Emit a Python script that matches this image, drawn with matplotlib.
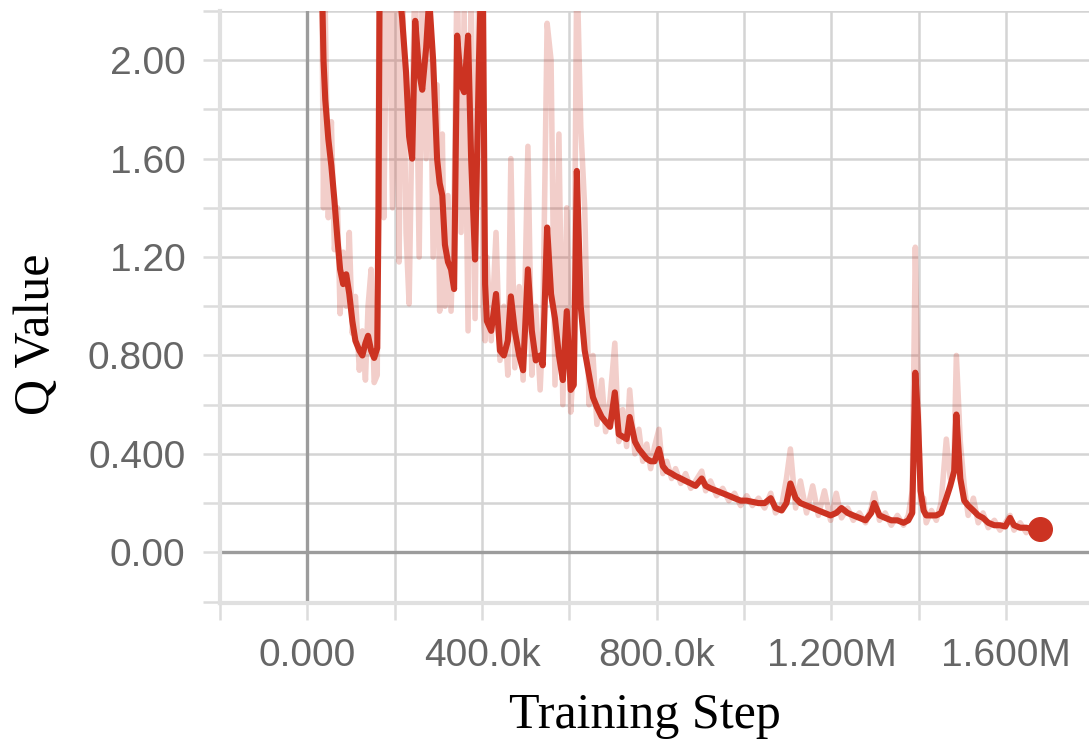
import matplotlib
matplotlib.use("Agg")
import matplotlib.pyplot as plt
import matplotlib.ticker as ticker

# training steps (thousands), smoothed and raw Q value
steps_k = [32, 37, 41, 48, 55, 62, 69, 75, 82, 89, 96, 103, 110, 119, 126, 133, 139, 146, 153, 160,
           163, 166, 175, 185, 195, 205, 210, 217, 226, 233, 240, 247, 256, 263, 272, 279, 288, 297, 303, 309,
           315, 322, 329, 336, 343, 352, 359, 368, 375, 384, 393, 398, 402, 407, 411, 421, 432, 441, 450, 459,
           466, 475, 485, 494, 505, 514, 523, 533, 539, 549, 558, 567, 576, 585, 594, 603, 610, 617, 626, 635,
           645, 654, 663, 674, 683, 693, 704, 713, 722, 731, 738, 750, 759, 768, 777, 786, 795, 805, 814, 823,
           834, 843, 855, 866, 878, 889, 903, 912, 923, 937, 951, 965, 978, 992, 1006, 1019, 1033, 1047, 1061, 1072,
           1086, 1097, 1106, 1118, 1129, 1143, 1157, 1170, 1184, 1198, 1211, 1223, 1237, 1250, 1264, 1278, 1291, 1298, 1310, 1323,
           1337, 1351, 1365, 1376, 1385, 1392, 1398, 1404, 1411, 1417, 1429, 1440, 1451, 1463, 1472, 1481, 1486, 1495, 1504, 1513,
           1525, 1536, 1547, 1559, 1573, 1586, 1598, 1609, 1618, 1632, 1646, 1659, 1673, 1678]

q_smoothed = [2.45, 2.00, 1.84, 1.68, 1.57, 1.43, 1.27, 1.15, 1.09, 1.13, 1.05, 0.94, 0.86, 0.82, 0.80, 0.85, 0.88, 0.82, 0.79, 0.83,
              1.40, 2.50, 2.60, 2.55, 2.50, 2.40, 2.30, 2.17, 1.95, 1.69, 1.60, 2.16, 1.95, 1.88, 2.05, 2.25, 2.00, 1.60, 1.50, 1.45,
              1.25, 1.18, 1.15, 1.07, 2.10, 1.90, 1.87, 2.10, 1.60, 1.19, 2.00, 2.35, 2.30, 1.09, 0.94, 0.90, 1.05, 0.82, 0.80, 0.86,
              1.04, 0.90, 0.80, 0.74, 1.15, 0.90, 0.78, 0.80, 0.76, 1.32, 1.05, 0.95, 0.80, 0.70, 0.98, 0.66, 0.68, 1.55, 1.00, 0.82,
              0.72, 0.63, 0.59, 0.55, 0.53, 0.51, 0.65, 0.48, 0.47, 0.46, 0.55, 0.45, 0.42, 0.40, 0.38, 0.37, 0.37, 0.42, 0.35, 0.33,
              0.32, 0.31, 0.30, 0.29, 0.28, 0.27, 0.30, 0.27, 0.26, 0.25, 0.24, 0.23, 0.22, 0.21, 0.21, 0.205, 0.20, 0.20, 0.22, 0.18,
              0.17, 0.20, 0.28, 0.22, 0.20, 0.19, 0.18, 0.17, 0.16, 0.15, 0.16, 0.18, 0.16, 0.15, 0.14, 0.13, 0.16, 0.20, 0.15, 0.14,
              0.13, 0.13, 0.12, 0.13, 0.16, 0.73, 0.55, 0.25, 0.17, 0.15, 0.15, 0.15, 0.16, 0.22, 0.27, 0.33, 0.56, 0.30, 0.21, 0.19,
              0.17, 0.15, 0.14, 0.12, 0.11, 0.11, 0.105, 0.14, 0.11, 0.10, 0.10, 0.095, 0.095, 0.095]

q_raw = [2.60, 1.40, 2.20, 1.36, 1.75, 1.23, 1.40, 0.97, 1.22, 1.00, 1.30, 0.89, 1.04, 0.74, 0.90, 0.70, 1.00, 1.15, 0.69, 0.72,
         1.90, 2.80, 1.36, 2.70, 1.40, 2.60, 1.18, 2.50, 1.30, 1.01, 1.80, 2.40, 1.20, 2.30, 1.60, 2.50, 1.20, 1.90, 0.98, 1.70,
         1.00, 1.45, 0.98, 1.40, 2.40, 1.30, 2.20, 0.90, 2.30, 0.95, 2.40, 2.60, 1.00, 0.86, 1.20, 0.86, 1.30, 0.78, 1.00, 0.72,
         1.60, 0.75, 1.08, 0.70, 1.65, 0.72, 1.00, 0.66, 0.90, 2.15, 2.00, 0.68, 1.70, 0.60, 1.40, 0.57, 0.80, 2.40, 1.73, 1.40,
         0.60, 0.80, 0.52, 0.70, 0.49, 0.62, 0.85, 0.45, 0.58, 0.43, 0.66, 0.40, 0.50, 0.37, 0.44, 0.34, 0.43, 0.50, 0.32, 0.37,
         0.30, 0.34, 0.28, 0.32, 0.26, 0.29, 0.33, 0.25, 0.29, 0.23, 0.26, 0.21, 0.24, 0.19, 0.23, 0.19, 0.22, 0.18, 0.24, 0.16,
         0.19, 0.30, 0.42, 0.18, 0.29, 0.16, 0.27, 0.15, 0.25, 0.13, 0.24, 0.14, 0.18, 0.13, 0.16, 0.12, 0.18, 0.24, 0.13, 0.16,
         0.11, 0.15, 0.11, 0.15, 0.25, 1.24, 0.66, 0.20, 0.22, 0.12, 0.17, 0.13, 0.20, 0.46, 0.30, 0.40, 0.80, 0.45, 0.27, 0.15,
         0.22, 0.12, 0.16, 0.10, 0.13, 0.09, 0.12, 0.15, 0.09, 0.12, 0.08, 0.11, 0.08, 0.095]

x_ticks = [0, 400000, 800000, 1200000, 1600000]
x_tick_labels = ["0.000", "400.0k", "800.0k", "1.200M", "1.600M"]
y_ticks = [0.0, 0.4, 0.8, 1.2, 1.6, 2.0]
y_tick_labels = ["0.00", "0.400", "0.800", "1.20", "1.60", "2.00"]

line_color = "#cc3322"
grid_color = "#d4d4d4"

steps = [k * 1000 for k in steps_k]

fig = plt.figure(figsize=(10.89, 7.40), dpi=100)
ax = fig.add_axes([220 / 1089, 1 - 603 / 740, 1 - 220 / 1089, 592 / 740])

ax.set_xlim(-200000, 1789700)
ax.set_ylim(-0.206, 2.2)

# grid on every 200k / 0.2, labels on every other line
ax.xaxis.set_major_locator(ticker.FixedLocator(x_ticks))
ax.xaxis.set_major_formatter(ticker.FixedFormatter(x_tick_labels))
ax.xaxis.set_minor_locator(ticker.MultipleLocator(200000))
ax.yaxis.set_major_locator(ticker.FixedLocator(y_ticks))
ax.yaxis.set_major_formatter(ticker.FixedFormatter(y_tick_labels))
ax.yaxis.set_minor_locator(ticker.MultipleLocator(0.2))

ax.grid(True, which="both", color=grid_color, linewidth=1.8)
ax.set_axisbelow(True)

for side in ["top", "right"]:
    ax.spines[side].set_visible(False)
for side in ["left", "bottom"]:
    ax.spines[side].set_color("#e0e0e0")
    ax.spines[side].set_linewidth(3)

ax.tick_params(which="both", length=12, width=1.8, color="#dcdcdc",
               pad=13, labelsize=28, labelcolor="#666666")
for lbl in ax.get_xticklabels() + ax.get_yticklabels():
    lbl.set_family("Liberation Sans")

# zero axes drawn darker
ax.axhline(0, color="#9c9c9c", linewidth=2.4, zorder=1)
ax.axvline(0, color="#9c9c9c", linewidth=2.4, zorder=1)

ax.plot(steps, q_raw, color=line_color, alpha=0.24, linewidth=4.0, zorder=2)
ax.plot(steps, q_smoothed, color=line_color, linewidth=4.4, zorder=3)
ax.plot(steps[-1], q_smoothed[-1], "o", color=line_color, markersize=17, zorder=4)

fig.text(37 / 1089, 1 - 334 / 740, "Q Value", rotation=90, ha="center", va="center",
         fontsize=36, family="Liberation Serif", color="black")
fig.text(645 / 1089, 1 - 728 / 740, "Training Step", ha="center", va="baseline",
         fontsize=36, family="Liberation Serif", color="black")

fig.savefig("out.png", dpi=100)
